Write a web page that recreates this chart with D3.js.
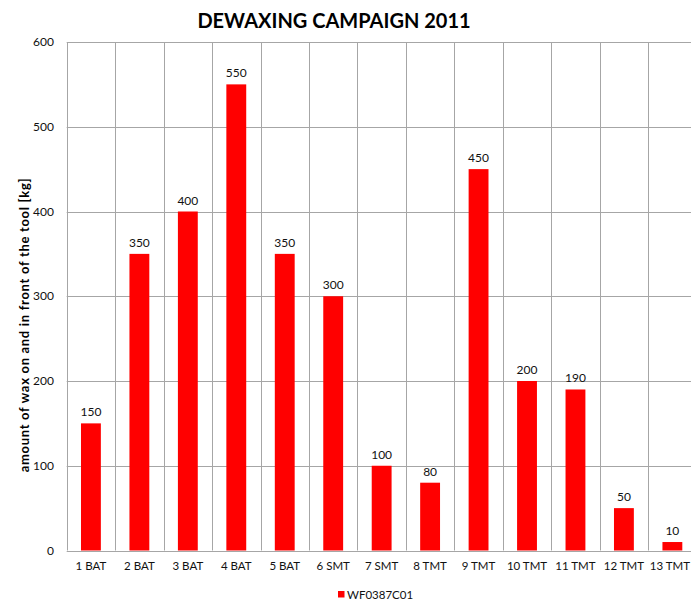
<!DOCTYPE html>
<html><head><meta charset="utf-8">
<script src="https://cdn.jsdelivr.net/npm/d3@7"></script>
<style>body{margin:0;background:#fff;overflow:hidden}svg{display:block}</style>
</head><body>
<script>
const categories = ["1 BAT","2 BAT","3 BAT","4 BAT","5 BAT","6 SMT","7 SMT","8 TMT","9 TMT","10 TMT","11 TMT","12 TMT","13 TMT"];
const values = [150,350,400,550,350,300,100,80,450,200,190,50,10];
const yTicks = [0,100,200,300,400,500,600];
const seriesName = "WF0387C01";
const title = "DEWAXING CAMPAIGN 2011";
const yLabel = "amount of wax on and in front of the tool [kg]";

const W = 691, H = 601;
const font = "Lato, 'Open Sans', sans-serif";
const grid = "#a6a6a6";
const svg = d3.select("body").append("svg").attr("width", W).attr("height", H);

const x = d3.scaleBand().domain(categories).range([66.7, 696.6]).padding(0);
const y = d3.scaleLinear().domain([0, 600]).range([550.5, 42]);
const barW = x.bandwidth() * 0.41;

// horizontal gridlines
svg.append("g").selectAll("line").data(yTicks).join("line")
  .attr("x1", x.range()[0]).attr("x2", x.range()[1])
  .attr("y1", d => Math.round(y(d)) + 0.5).attr("y2", d => Math.round(y(d)) + 0.5)
  .attr("stroke", grid).attr("stroke-width", 1);

// vertical gridlines at band boundaries
const bounds = categories.map(c => x(c)).concat([x.range()[1]]);
svg.append("g").selectAll("line").data(bounds).join("line")
  .attr("x1", d => Math.round(d) + 0.5).attr("x2", d => Math.round(d) + 0.5)
  .attr("y1", y(600)).attr("y2", y(0))
  .attr("stroke", grid).attr("stroke-width", 1);

// y tick labels
svg.append("g").selectAll("text").data(yTicks).join("text")
  .attr("x", 54).attr("y", d => y(d)).attr("dy", "0.35em")
  .attr("text-anchor", "end").attr("font-family", font).attr("font-size", 12)
  .attr("fill", "#111").text(d => d);

// bars
svg.append("g").selectAll("rect").data(values).join("rect")
  .attr("x", (d, i) => x(categories[i]) + (x.bandwidth() - barW) / 2)
  .attr("y", d => y(d)).attr("width", barW).attr("height", d => y(0) - y(d))
  .attr("fill", "#ff0000");

// value labels
svg.append("g").selectAll("text").data(values).join("text")
  .attr("x", (d, i) => x(categories[i]) + x.bandwidth() / 2)
  .attr("y", d => y(d) - 7)
  .attr("text-anchor", "middle").attr("font-family", font).attr("font-size", 12)
  .attr("fill", "#111").text(d => d);

// x tick labels
svg.append("g").selectAll("text").data(categories).join("text")
  .attr("x", c => x(c) + x.bandwidth() / 2).attr("y", 570)
  .attr("text-anchor", "middle").attr("font-family", font).attr("font-size", 11.5)
  .attr("fill", "#111").text(c => c)
  .each(function(c) {
    const w = this.getComputedTextLength();
    const cx = x(c) + x.bandwidth() / 2;
    if (cx + w / 2 > W - 1) d3.select(this).attr("x", W - 1 - w / 2);
  });

// title
svg.append("text").attr("x", 334).attr("y", 28).attr("text-anchor", "middle")
  .attr("font-family", font).attr("font-weight", "bold").attr("font-size", 20)
  .attr("fill", "#000").text(title);

// y label
svg.append("text").attr("transform", "translate(29,325) rotate(-90)")
  .attr("text-anchor", "middle").attr("font-family", font).attr("font-weight", "bold")
  .attr("font-size", 13).attr("letter-spacing", 0.7).attr("fill", "#000").text(yLabel);

// legend
const lg = svg.append("g").attr("transform", "translate(338,591)");
lg.append("rect").attr("x", 0).attr("y", 0).attr("width", 6.5).attr("height", 6.5).attr("fill", "#ff0000");
lg.append("text").attr("x", 9).attr("y", 3.5).attr("dy", "0.35em")
  .attr("font-family", font).attr("font-size", 11.5).attr("fill", "#111").text(seriesName);
</script>
</body></html>
